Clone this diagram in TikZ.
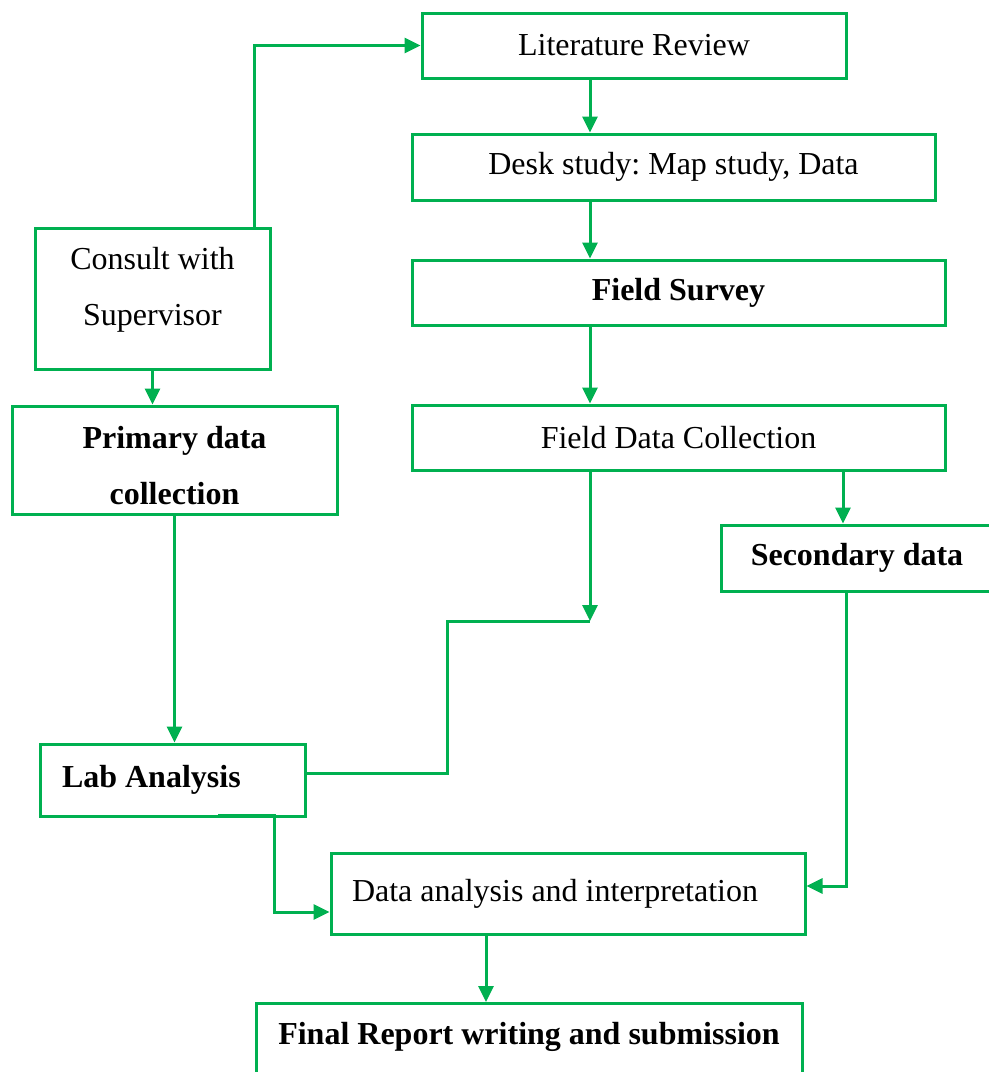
\documentclass[tikz,border=0pt]{standalone}
\usepackage{fontspec}
\setmainfont{Liberation Serif}
\usetikzlibrary{arrows.meta}
\definecolor{flowgreen}{RGB}{0,176,80}
\tikzset{>={Triangle[width=7.5pt,length=8pt]}}
\tikzset{box/.style={draw=flowgreen, line width=1.5pt, rectangle, inner sep=0pt, align=center,
    font=\fontsize{16}{28}\selectfont\frenchspacing},
  link/.style={draw=flowgreen, line width=1.5pt}}

\begin{document}
\begin{tikzpicture}[x=0.5pt,y=-0.5pt]

  \useasboundingbox (0,0) rectangle (989,1072);

  % right hand column
  \node[box, minimum width=212pt, minimum height=32.5pt] (lit) at (634,45.5) {Literature Review};
  \node[box, minimum width=261.5pt, minimum height=33pt] (desk) at (673.5,167) {Desk study: Map study, Data};
  \node[box, minimum width=266.5pt, minimum height=32.5pt] (survey) at (678.5,292.5) {\textbf{Field Survey}};
  \node[box, minimum width=266.5pt, minimum height=32.5pt] (fdc) at (678.5,437.5) {Field Data Collection};
  \node[box, minimum width=136pt, minimum height=33pt] (second) at (857,558) {\textbf{Secondary data}};

  % left hand column
  \node[box, minimum width=117.5pt, minimum height=70.5pt] (consult) at (152.5,298.5) {Consult with\\Supervisor\\[-16pt]\mbox{}};
  \node[box, minimum width=162.5pt, minimum height=54pt] (primary) at (174.5,460) {\mbox{}\\[-11pt]\textbf{Primary data}\\\textbf{collection}};
  \node[box, align=flush left, text width=110.5pt, inner xsep=11pt, minimum height=36pt] (lab) at (172.5,780) {\textbf{Lab Analysis}};

  % bottom
  \node[box, align=flush left, text width=216pt, inner xsep=10.5pt, minimum height=40.5pt] (dai) at (568,893.5) {Data analysis and interpretation};
  \node[box, anchor=north, minimum width=273pt, text height=20.5pt, text depth=30pt] (final) at (529,1002) {\textbf{Final Report writing and submission}};

  \coordinate (c590) at (590,0);
  \coordinate (c843) at (843,0);
  \coordinate (c846) at (846,0);
  \coordinate (c486) at (486,0);
  \coordinate (jn) at (590,621);
  \coordinate (bend) at (447,621);
  \coordinate (labout) at (218,815);
  \coordinate (labturn) at (274,912);

  \draw[link,->] ([xshift=-8.5pt]consult.north east) |- (lit.west); % consult->lit
  \draw[link,->] (lit.south -| c590) -- (desk.north -| c590); % lit->desk
  \draw[link,->] (desk.south -| c590) -- (survey.north -| c590); % desk->survey
  \draw[link,->] (survey.south -| c590) -- (fdc.north -| c590); % survey->fdc
  \draw[link,->] (consult.south) -- (consult.south |- primary.north); % consult->primary

  \draw[link,->] (fdc.south -| c590) -- (jn); % fdc->jn
  \draw[link] ([yshift=3.5pt]lab.east) -| (bend) -- (jn); % lab--jn
  \draw[link,->] (fdc.south -| c843) -- (second.north -| c843); % fdc->second
  \draw[link,->] (second.south -| c846) |- ([yshift=3.75pt]dai.east); % second->dai

  \draw[link,->] (primary.south) -- (primary.south |- lab.north); % primary->lab
  \draw[link,->] (labout) -| (labturn) -- (labturn -| dai.west); % lab->dai
  \draw[link,->] (dai.south -| c486) -- (final.north -| c486); % dai->final

\end{tikzpicture}
\end{document}
